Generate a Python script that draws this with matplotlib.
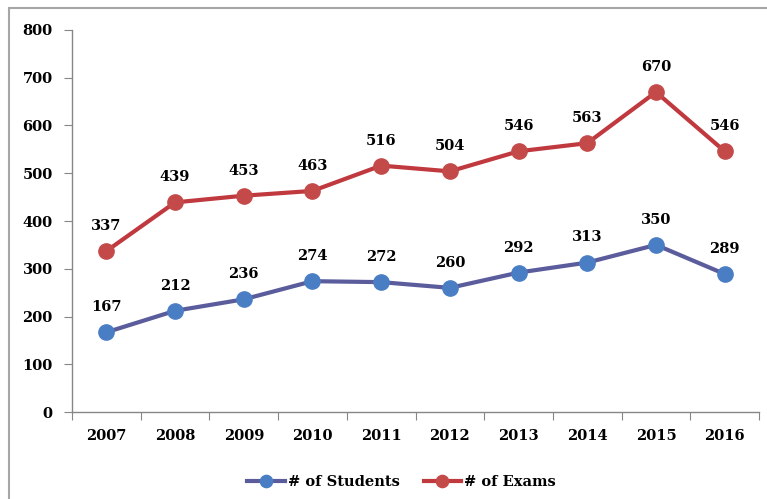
import matplotlib
matplotlib.use("Agg")
import matplotlib.pyplot as plt
from matplotlib.patches import Rectangle

years = ["2007", "2008", "2009", "2010", "2011", "2012", "2013", "2014", "2015", "2016"]
students = [167, 212, 236, 274, 272, 260, 292, 313, 350, 289]
exams = [337, 439, 453, 463, 516, 504, 546, 563, 670, 546]
y_ticks = [0, 100, 200, 300, 400, 500, 600, 700, 800]

plt.rcParams["font.family"] = ["DejaVu Serif", "Liberation Serif"]
plt.rcParams["font.weight"] = "bold"
FS = 10.5

fig = plt.figure(figsize=(7.67, 4.99), dpi=100)
ax = fig.add_axes([0.0939, 0.1743, 0.8957, 0.7656])

# outer chart frame (runs off the right and bottom edges)
fig.patches.append(Rectangle((9 / 767, -0.05), 1.05, 1.05 - 8 / 499, transform=fig.transFigure,
                             fill=False, edgecolor="#a6a6a6", linewidth=1.5))

x = list(range(len(years)))
ax.plot(x, students, color="#5a5c9c", linewidth=3, marker="o", markersize=11,
        markerfacecolor="#4a7ec4", markeredgecolor="#4a7ec4", label="# of Students", zorder=3)
ax.plot(x, exams, color="#c0393f", linewidth=3, marker="o", markersize=11,
        markerfacecolor="#c44a4a", markeredgecolor="#c44a4a", label="# of Exams", zorder=3)

for xi, v in zip(x, students):
    ax.annotate(str(v), (xi, v), xytext=(0, 13), textcoords="offset points",
                ha="center", va="bottom", fontsize=FS)
for xi, v in zip(x, exams):
    ax.annotate(str(v), (xi, v), xytext=(0, 13), textcoords="offset points",
                ha="center", va="bottom", fontsize=FS)

ax.set_xlim(-0.5, len(years) - 0.5)
ax.set_ylim(0, 800)
ax.set_yticks(y_ticks)
ax.tick_params(axis="y", labelsize=FS, length=6, color="#868686", pad=8)
ax.set_xticks([i - 0.5 for i in range(len(years) + 1)])
ax.set_xticklabels([])
ax.set_xticks(x, minor=True)
ax.set_xticklabels(years, minor=True)
ax.tick_params(axis="x", which="major", length=6, color="#868686")
ax.tick_params(axis="x", which="minor", length=0, labelsize=FS, pad=12)

for side in ["top", "right"]:
    ax.spines[side].set_visible(False)
for side in ["left", "bottom"]:
    ax.spines[side].set_color("#868686")
    ax.spines[side].set_linewidth(1)

ax.legend(loc="upper center", bbox_to_anchor=(0.48, -0.13), ncol=2, frameon=False,
          fontsize=FS, handlelength=2.6, columnspacing=1.6, handletextpad=0.2,
          markerscale=0.8)

fig.savefig("out.png", dpi=100)
